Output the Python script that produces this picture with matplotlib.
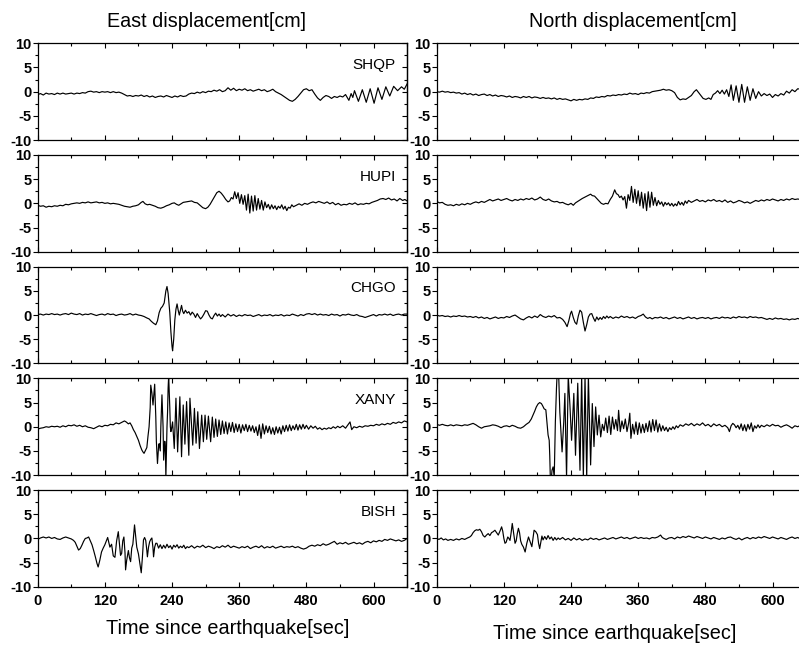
import matplotlib
matplotlib.use("Agg")
import matplotlib.pyplot as plt
from matplotlib.ticker import MultipleLocator
import numpy as np

plt.rcParams.update({"font.family": ["Liberation Sans", "DejaVu Sans"],
                     "axes.unicode_minus": False, "axes.linewidth": 0.9})

STATIONS = ["SHQP", "HUPI", "CHGO", "XANY", "BISH"]
XTICKS = [0, 120, 240, 360, 480, 600]
YTICKS = [-10, -5, 0, 5, 10]
COL_TITLES = ["East displacement[cm]", "North displacement[cm]"]
XLABEL = "Time since earthquake[sec]"

# (time [s], displacement [cm])
SHQP_E = [(0,-0.6),(5,-0.4),(10,-0.7),(15,-0.3),(20,-0.5),(25,-0.4),(30,-0.6),(35,-0.3),(40,-0.5),(45,-0.3),
          (50,-0.5),(55,-0.4),(60,-0.3),(65,-0.5),(70,-0.3),(75,-0.4),(80,-0.2),(85,-0.3),(90,0.0),(95,0.1),
          (100,-0.1),(105,0.0),(110,-0.2),(115,0.0),(120,-0.1),(125,0.0),(130,-0.2),(135,0.0),(140,-0.2),(145,-0.1),
          (150,-0.3),(155,-0.6),(160,-0.9),(165,-0.8),(170,-1.0),(175,-0.8),(180,-0.9),(185,-0.7),(190,-1.0),(195,-0.8),
          (200,-1.1),(205,-0.9),(210,-1.2),(215,-1.0),(220,-0.9),(225,-1.1),(230,-0.8),(235,-1.0),(240,-1.2),(245,-0.9),
          (250,-1.1),(255,-0.8),(260,-1.0),(265,-0.9),(270,-0.5),(275,-0.3),(280,-0.4),(285,-0.1),(290,-0.3),(295,0.0),
          (300,-0.2),(305,0.1),(310,0.0),(315,0.3),(320,0.1),(325,0.4),(330,0.0),(335,0.2),(340,0.8),(345,0.3),
          (350,0.7),(355,0.2),(360,0.5),(365,0.3),(370,0.6),(375,0.2),(380,0.4),(385,0.1),(390,0.3),(395,0.5),
          (400,0.2),(405,0.4),(410,0.0),(415,0.2),(420,0.5),(425,0.0),(430,-0.3),(435,-0.6),(440,-1.0),(445,-1.4),
          (450,-1.8),(455,-2.0),(460,-1.6),(465,-1.0),(470,-0.3),(475,0.4),(480,0.6),(485,0.2),(490,0.4),(495,-0.5),
          (500,-1.3),(505,-1.8),(510,-1.2),(515,-0.8),(520,-1.0),(525,-1.4),(530,-1.0),(535,-1.2),(540,-0.9),(545,-1.1),
          (550,-0.6),(556,-1.8),(560,-0.4),(563,-1.2),(566,0.2),(573,-2.0),(580,0.4),(587,-2.2),(594,0.6),(601,-2.4),
          (608,0.8),(615,-1.6),(622,1.0),(629,-0.9),(636,1.1),(643,0.2),(650,1.0),(655,0.5),(660,1.6)]

HUPI_E = [(0,-0.4),(5,-0.6),(10,-0.5),(15,-0.8),(20,-0.6),(25,-0.7),(30,-0.5),(35,-0.6),(40,-0.4),(45,-0.5),
          (50,-0.2),(55,-0.3),(60,-0.1),(65,0.0),(70,0.1),(75,0.0),(80,0.2),(85,0.1),(90,0.3),(95,0.1),
          (100,0.2),(105,0.3),(110,0.1),(115,0.2),(120,0.0),(125,0.1),(130,-0.1),(135,0.0),(140,-0.1),(145,-0.2),
          (150,-0.4),(155,-0.6),(160,-0.7),(165,-0.8),(170,-0.6),(175,-0.5),(180,-0.3),(185,0.2),(188,0.4),(192,-0.1),
          (196,-0.3),(200,-0.2),(205,-0.4),(210,-0.6),(215,-0.9),(220,-1.0),(225,-0.8),(230,-0.5),(235,-0.3),(240,0.0),
          (244,0.1),(248,-0.2),(252,-0.4),(256,-0.1),(260,0.2),(265,0.3),(270,0.4),(275,0.5),(280,0.2),(285,0.1),
          (290,-0.4),(295,-0.9),(300,-1.1),(304,-0.8),(308,-0.2),(312,0.6),(316,1.4),(320,2.2),(324,2.5),(328,2.1),
          (332,1.5),(336,0.8),(340,0.3),(343,0.5),(346,1.2),(349,0.9),(352,2.4),(355,1.0),(358,2.2),(361,0.0),
          (364,1.8),(367,-0.2),(370,1.6),(373,-1.4),(376,1.9),(379,-2.0),(382,1.5),(385,-1.6),(388,1.6),(391,-1.4),
          (394,1.0),(397,-1.2),(400,0.6),(403,-1.4),(406,0.3),(409,-0.9),(412,-0.2),(415,-1.2),(418,-0.3),(421,-1.1),
          (424,-0.5),(427,-1.3),(430,-0.6),(433,-1.0),(436,-0.3),(439,-1.2),(442,-0.6),(445,-1.5),(448,-0.8),(451,-1.0),
          (454,-0.3),(457,-0.7),(462,-0.4),(467,-0.1),(472,-0.4),(477,0.0),(482,-0.2),(487,0.1),(492,0.3),(497,0.1),
          (502,0.4),(507,0.2),(512,0.0),(517,0.3),(522,-0.1),(527,0.2),(532,-0.3),(537,0.0),(542,-0.4),(547,-0.2),
          (552,-0.3),(557,0.0),(562,-0.2),(567,0.1),(572,-0.3),(577,-0.1),(582,-0.2),(587,0.0),(592,-0.1),(597,0.2),
          (602,0.4),(607,0.6),(612,0.9),(617,1.0),(622,0.8),(627,1.1),(632,0.7),(637,0.9),(642,0.5),(647,1.0),
          (652,0.6),(656,0.8),(660,0.5)]

CHGO_E = [(0,0.1),(5,0.2),(10,0.0),(15,0.2),(20,0.1),(25,0.3),(30,0.1),(35,0.2),(40,0.0),(45,0.2),
          (50,0.3),(55,0.1),(60,0.4),(65,0.2),(70,0.1),(75,0.3),(80,0.0),(85,0.2),(90,0.1),(95,0.3),
          (100,0.1),(105,-0.1),(110,0.1),(115,0.2),(120,0.0),(125,0.3),(130,0.1),(135,0.2),(140,-0.1),(145,0.1),
          (150,0.2),(155,0.0),(160,0.1),(165,0.3),(170,0.0),(175,0.2),(180,0.0),(185,-0.1),(190,-0.3),(195,-0.6),
          (199,-0.8),(203,-1.3),(207,-1.7),(211,-2.0),(214,-1.2),(217,0.5),(220,1.4),(223,1.8),(226,2.5),(229,5.0),
          (231,5.9),(233,4.5),(236,0.5),(238,-3.5),(240,-6.5),(241,-7.4),(243,-5.0),(245,-1.0),(247,1.2),(249,2.3),
          (251,1.0),(253,0.0),(255,1.0),(257,2.0),(259,0.8),(261,0.3),(264,1.0),(267,0.4),(270,0.7),(273,0.0),
          (276,0.6),(279,0.2),(282,-0.5),(285,0.3),(288,-0.3),(291,-0.8),(294,-0.4),(297,0.2),(300,0.9),(303,0.8),
          (306,0.0),(309,-0.6),(312,-0.8),(315,-0.1),(318,0.4),(321,-0.2),(324,0.2),(327,-0.3),(330,0.1),(335,-0.4),
          (340,0.2),(345,-0.2),(350,0.1),(355,-0.3),(360,0.0),(365,-0.2),(370,0.1),(375,-0.1),(380,0.0),(385,-0.3),
          (390,-0.1),(395,0.1),(400,-0.2),(405,0.0),(410,-0.1),(415,0.1),(420,-0.2),(425,0.0),(430,-0.1),(435,0.1),
          (440,-0.2),(445,0.0),(450,-0.1),(455,0.2),(460,0.0),(465,-0.2),(470,0.1),(475,-0.1),(480,0.2),(485,0.3),
          (490,0.1),(495,0.3),(500,0.0),(505,0.2),(510,0.0),(515,0.1),(520,-0.1),(525,0.2),(530,0.0),(535,0.1),
          (540,-0.2),(545,0.1),(550,0.0),(555,0.2),(560,0.0),(565,-0.1),(570,0.1),(575,-0.2),(580,-0.3),(585,-0.5),
          (590,-0.3),(595,-0.1),(600,0.1),(605,-0.2),(610,0.1),(615,0.0),(620,0.2),(625,0.0),(630,0.2),(635,-0.1),
          (640,0.1),(645,0.2),(650,0.0),(655,0.2),(660,0.2)]

XANY_E = [(0,-0.5),(5,-0.3),(10,-0.2),(15,0.0),(20,-0.1),(25,0.1),(30,0.0),(35,0.1),(40,-0.1),(45,0.2),
          (50,0.0),(55,0.3),(60,0.2),(65,0.4),(70,0.1),(75,0.3),(80,0.0),(85,0.2),(90,-0.1),(95,-0.2),
          (100,-0.4),(105,-0.1),(110,0.2),(115,0.0),(120,0.3),(125,0.2),(130,0.5),(135,0.4),(140,0.8),(145,0.6),
          (150,0.9),(155,1.2),(158,1.0),(162,0.6),(165,0.8),(168,0.2),(171,-0.6),(174,-1.2),(177,-2.0),(180,-2.8),
          (183,-3.9),(186,-4.8),(188,-5.2),(190,-5.5),(192,-5.0),(195,-4.3),(197,-2.0),(199,0.0),(201,4.0),(202,8.6),
          (204,7.0),(206,4.5),(208,7.5),(209,8.8),(211,2.0),(212,-3.0),(214,-7.6),(216,-4.0),(217,-3.5),(219,-5.0),
          (220,0.0),(222,6.6),(224,0.0),(225,-6.9),(227,-3.0),(228,-4.0),(229,-10.5),(231,0.0),(232,3.0),(233,8.0),
          (234,10.5),(236,4.0),(237,0.0),(238,-1.0),(239,-0.5),(241,1.0),(244,-4.5),(247,5.9),(250,-5.2),(254,6.2),
          (257,-6.2),(260,4.5),(263,-3.6),(266,5.2),(270,-5.9),(272,5.9),(277,-3.8),(280,3.8),(283,-3.4),(286,3.1),
          (289,-4.5),(293,2.4),(296,-3.1),(299,2.4),(302,-2.6),(305,2.2),(309,-3.1),(312,2.0),(315,-2.2),(318,1.6),
          (321,-2.0),(324,1.4),(327,-1.6),(330,1.2),(333,-1.4),(336,1.0),(339,-1.5),(342,0.8),(345,-1.0),(348,0.9),
          (351,-1.2),(354,0.6),(357,-1.0),(360,0.5),(363,-1.3),(366,0.4),(369,-0.8),(372,0.5),(375,-1.0),(378,0.3),
          (381,-0.9),(384,0.2),(387,-1.2),(390,0.0),(393,-1.8),(396,0.4),(399,-2.4),(402,0.6),(405,-1.5),(408,0.2),
          (411,-1.2),(414,0.1),(417,-1.5),(420,-0.2),(423,-1.6),(426,0.0),(429,-1.3),(432,-0.1),(435,-1.5),(438,0.2),
          (441,-1.0),(444,0.3),(447,-0.9),(450,0.4),(453,-0.8),(456,0.2),(459,-0.6),(462,0.5),(465,-0.7),(468,0.4),
          (471,-0.5),(474,0.5),(477,-0.4),(480,0.3),(484,-0.5),(488,0.2),(492,-0.3),(496,0.1),(500,-0.5),(504,-0.2),
          (508,-0.6),(512,-0.3),(516,-0.5),(520,-0.2),(524,-0.4),(528,0.0),(532,-0.3),(536,0.1),(540,-0.2),(545,0.2),
          (550,-0.3),(555,0.5),(558,1.0),(561,-0.6),(565,0.0),(570,-0.2),(575,0.1),(580,-0.1),(585,0.2),(590,0.1),
          (595,0.3),(600,0.2),(605,0.5),(610,0.3),(615,0.6),(620,0.4),(625,0.7),(630,0.5),(635,0.9),(640,0.7),
          (645,1.0),(650,0.8),(655,1.2),(660,1.0)]

BISH_E = [(0,-0.2),(5,0.1),(10,0.3),(15,0.1),(20,0.3),(25,0.0),(30,0.2),(35,-0.1),(40,-0.2),(45,0.1),
          (50,0.3),(55,0.1),(60,-0.1),(64,-0.4),(67,-0.8),(70,-1.6),(73,-2.4),(76,-2.1),(79,-1.4),(82,-0.6),
          (85,0.0),(88,0.1),(91,0.3),(94,-0.5),(97,-1.3),(100,-2.5),(103,-3.8),(106,-5.2),(108,-5.9),(111,-4.5),
          (114,-2.8),(117,-2.0),(120,-1.3),(123,-0.4),(125,0.2),(127,-0.8),(129,-1.8),(132,-1.2),(135,-3.6),(138,-3.9),
          (141,-0.5),(144,1.4),(146,-1.0),(148,-3.5),(150,-3.1),(152,-0.5),(154,0.3),(156,-3.0),(157,-6.5),(159,-4.5),
          (162,-2.5),(164,-4.0),(166,-4.8),(168,-2.0),(170,-1.2),(172,1.5),(173,2.8),(175,0.5),(177,-1.8),(180,-3.2),
          (183,-5.5),(185,-7.1),(187,-4.0),(189,-0.3),(191,0.2),(193,-0.4),(195,-2.5),(196,-3.8),(198,-1.8),(200,-0.7),
          (202,-0.2),(204,0.1),(206,-2.0),(207,-3.8),(209,-1.8),(211,-1.0),(213,-1.0),(216,-2.0),(219,-1.3),(222,-2.1),
          (225,-1.4),(228,-2.0),(231,-1.2),(234,-1.9),(237,-1.5),(240,-2.2),(243,-1.4),(246,-1.8),(249,-1.3),(252,-2.0),
          (255,-1.6),(258,-1.9),(261,-1.4),(264,-2.1),(267,-1.7),(270,-1.9),(275,-1.5),(280,-2.0),(285,-1.6),(290,-1.8),
          (295,-1.4),(300,-1.9),(305,-1.6),(310,-1.8),(315,-2.1),(320,-1.7),(325,-1.9),(330,-1.5),(335,-1.8),(340,-1.4),
          (345,-1.9),(350,-1.6),(355,-1.8),(360,-2.0),(365,-1.7),(370,-1.9),(375,-1.6),(380,-2.1),(385,-1.8),(390,-1.6),
          (395,-1.9),(400,-1.5),(405,-2.0),(410,-1.7),(415,-1.9),(420,-1.6),(425,-2.0),(430,-1.8),(435,-1.6),(440,-1.9),
          (445,-1.7),(450,-1.8),(455,-1.6),(460,-1.9),(465,-1.7),(470,-2.0),(475,-2.2),(480,-2.0),(485,-1.6),(490,-1.4),
          (495,-1.6),(500,-1.3),(505,-1.5),(510,-1.1),(515,-1.4),(520,-1.2),(525,-0.9),(530,-0.6),(535,-1.2),(540,-0.9),
          (545,-1.1),(550,-0.8),(555,-1.2),(560,-1.0),(565,-0.8),(570,-1.1),(575,-0.9),(580,-1.2),(585,-0.8),(590,-0.6),
          (595,-0.9),(600,-0.5),(605,-0.7),(610,-0.4),(615,-0.6),(620,-0.2),(625,-0.4),(630,-0.1),(635,-0.3),(640,-0.5),
          (645,-0.3),(650,-0.6),(655,-0.4),(660,0.0)]

SHQP_N = [(0,0.0),(5,-0.1),(10,0.1),(15,-0.1),(20,0.0),(25,-0.2),(30,-0.1),(35,-0.3),(40,-0.2),(45,-0.5),
          (50,-0.3),(55,-0.6),(60,-0.4),(65,-0.7),(70,-0.5),(75,-0.8),(80,-0.6),(85,-0.5),(90,-0.8),(95,-0.6),
          (100,-0.9),(105,-0.7),(110,-1.0),(115,-0.8),(120,-0.9),(125,-1.1),(130,-0.9),(135,-1.2),(140,-1.0),(145,-1.1),
          (150,-1.3),(155,-1.0),(160,-1.2),(165,-1.0),(170,-1.3),(175,-1.1),(180,-1.2),(185,-1.4),(190,-1.2),(195,-1.4),
          (200,-1.3),(205,-1.5),(210,-1.3),(215,-1.6),(220,-1.4),(225,-1.6),(230,-1.5),(235,-1.7),(240,-1.9),(245,-1.6),
          (250,-1.8),(255,-1.6),(260,-1.7),(265,-1.5),(270,-1.6),(275,-1.3),(280,-1.4),(285,-1.1),(290,-1.2),(295,-1.0),
          (300,-1.1),(305,-0.8),(310,-0.9),(315,-0.7),(320,-0.8),(325,-0.6),(330,-0.7),(335,-0.5),(340,-0.6),(345,-0.3),
          (350,-0.5),(355,-0.4),(360,-0.6),(365,-0.3),(370,-0.4),(375,-0.2),(380,-0.3),(385,0.0),(390,0.1),(395,0.2),
          (400,0.3),(405,0.5),(410,0.3),(415,0.4),(420,0.2),(425,-0.2),(430,-1.2),(435,-1.7),(440,-1.5),(445,-1.6),
          (450,-1.2),(455,-0.8),(460,0.0),(464,0.4),(468,-0.2),(472,-0.8),(476,-1.4),(481,-1.6),(486,-1.3),(490,-1.6),
          (494,-0.6),(498,-0.3),(502,0.2),(506,-0.4),(510,0.3),(514,-0.5),(518,0.4),(522,-1.0),(526,1.4),(530,-1.8),
          (535,1.2),(540,-2.2),(545,1.5),(550,-2.2),(555,1.0),(560,-1.8),(565,0.6),(570,-1.4),(575,0.0),(580,-0.9),
          (585,-0.4),(590,-0.8),(595,-0.5),(600,-1.2),(605,-0.6),(610,-0.9),(615,-0.4),(620,-0.7),(625,0.1),(630,-0.3),
          (635,0.4),(640,0.0),(645,0.6),(650,0.5),(655,0.8),(660,0.9)]

HUPI_N = [(0,0.4),(5,0.1),(10,0.2),(15,-0.2),(20,-0.4),(25,-0.3),(30,-0.5),(35,-0.2),(40,-0.4),(45,-0.1),
          (50,-0.3),(55,0.0),(60,-0.2),(65,0.1),(70,0.3),(75,0.1),(80,0.4),(85,0.2),(90,0.5),(95,0.8),
          (100,0.5),(105,0.7),(110,0.9),(115,0.6),(120,0.8),(125,1.0),(130,0.7),(135,0.5),(140,0.8),(145,0.6),
          (150,0.9),(155,0.7),(160,1.0),(165,0.8),(170,1.1),(175,0.7),(180,0.9),(185,1.3),(190,0.8),(195,0.6),
          (200,0.9),(205,0.5),(210,0.3),(215,0.4),(220,0.1),(225,0.2),(230,-0.1),(235,-0.3),(240,0.0),(244,-0.4),
          (248,0.1),(252,0.4),(256,0.7),(260,1.0),(265,1.3),(270,1.6),(275,1.9),(278,1.6),(282,1.5),(286,1.0),
          (290,0.5),(294,0.0),(298,-0.2),(302,0.0),(306,-0.1),(310,0.8),(314,1.5),(318,2.8),(321,2.0),(324,1.8),
          (327,1.2),(330,1.5),(333,0.7),(336,1.4),(339,-1.0),(342,1.8),(345,0.6),(348,3.5),(351,0.2),(354,2.9),
          (357,0.0),(360,2.6),(363,-0.5),(366,2.3),(369,-1.0),(372,2.0),(375,-1.5),(378,2.4),(381,-0.8),(384,2.3),
          (387,-0.4),(390,1.2),(393,-0.5),(396,0.6),(399,-0.2),(402,0.3),(405,-0.6),(408,0.2),(411,-0.3),(414,0.1),
          (417,-0.5),(420,0.0),(423,-0.6),(426,-0.1),(429,-0.5),(432,0.4),(435,-0.3),(438,0.2),(441,-0.4),(444,0.5),
          (447,0.0),(450,0.6),(455,0.2),(460,0.5),(465,0.8),(470,0.4),(475,0.6),(480,0.3),(485,0.7),(490,0.5),
          (495,0.8),(500,0.4),(505,0.6),(510,0.3),(515,0.7),(520,0.2),(525,0.5),(530,0.1),(535,0.3),(540,0.6),
          (545,0.4),(550,0.1),(555,0.3),(560,0.0),(565,0.3),(570,0.6),(575,0.4),(580,0.7),(585,0.5),(590,0.8),
          (595,0.6),(600,0.9),(605,0.7),(610,0.5),(615,0.8),(620,0.6),(625,0.9),(630,0.7),(635,1.0),(640,0.8),
          (645,0.9),(650,0.8),(655,0.9),(660,0.8)]

CHGO_N = [(0,0.0),(5,-0.2),(10,-0.1),(15,-0.3),(20,-0.2),(25,-0.4),(30,-0.2),(35,-0.3),(40,-0.1),(45,-0.3),
          (50,-0.2),(55,-0.4),(60,-0.3),(65,-0.5),(70,-0.3),(75,-0.6),(80,-0.4),(85,-0.7),(90,-0.5),(95,-0.8),
          (100,-0.6),(105,-0.4),(110,-0.7),(115,-0.5),(120,-0.6),(125,-0.3),(130,-0.5),(135,-0.2),(140,0.0),(145,-0.4),
          (150,-0.8),(155,-1.0),(160,-0.6),(165,-0.3),(170,-0.6),(175,-0.2),(180,-0.5),(185,0.1),(190,-0.3),(195,-0.5),
          (200,-0.2),(205,-0.4),(210,-0.1),(215,-0.6),(220,-0.5),(225,-0.9),(229,-1.5),(233,-2.4),(236,-1.2),(239,0.3),
          (241,0.8),(244,-0.5),(247,-1.5),(250,-1.9),(253,-0.2),(256,1.0),(259,0.6),(262,-1.5),(265,-3.3),(268,-2.0),
          (271,-0.4),(274,0.2),(277,0.3),(280,-0.6),(283,-1.3),(286,-0.4),(289,-1.0),(292,-0.5),(295,-0.9),(298,-0.3),
          (301,-0.7),(304,-0.2),(307,-0.6),(310,-0.3),(315,-0.7),(320,-0.4),(325,-0.6),(330,-0.2),(335,-0.5),(340,-0.3),
          (345,-0.6),(350,-0.4),(355,-0.7),(360,-0.3),(365,-0.1),(369,0.2),(373,-0.4),(377,-0.7),(381,-0.5),(385,-0.8),
          (390,-0.5),(395,-0.6),(400,-0.4),(405,-0.7),(410,-0.5),(415,-0.8),(420,-0.6),(425,-0.4),(430,-0.7),(435,-0.5),
          (440,-0.8),(445,-0.6),(450,-0.4),(455,-0.7),(460,-0.5),(465,-0.8),(470,-0.6),(475,-0.5),(480,-0.7),(485,-0.5),
          (490,-0.8),(495,-0.6),(500,-0.5),(505,-0.7),(510,-0.4),(515,-0.6),(520,-0.5),(525,-0.7),(530,-0.4),(535,-0.6),
          (540,-0.3),(545,-0.5),(550,-0.4),(555,-0.6),(560,-0.3),(565,-0.5),(570,-0.4),(575,-0.6),(580,-0.5),(585,-0.7),
          (590,-0.9),(595,-0.7),(600,-0.9),(605,-0.6),(610,-0.8),(615,-0.7),(620,-0.9),(625,-0.8),(630,-1.0),(635,-0.8),
          (640,-0.9),(645,-0.7),(650,-0.9),(655,-0.8),(660,-0.8)]

XANY_N = [(0,0.5),(5,0.3),(10,0.5),(15,0.3),(20,0.2),(25,0.4),(30,0.2),(35,0.4),(40,0.3),(45,0.2),
          (50,0.4),(55,0.3),(60,0.5),(65,0.7),(70,0.4),(75,0.0),(80,-0.3),(85,0.0),(90,0.1),(95,0.2),
          (100,0.4),(105,0.3),(110,0.1),(115,-0.2),(120,0.1),(125,0.2),(130,0.0),(135,0.3),(140,0.1),(145,-0.2),
          (150,-0.3),(155,0.0),(160,0.5),(165,0.9),(169,1.6),(172,2.4),(175,3.2),(178,4.1),(181,4.7),(184,5.0),
          (187,4.8),(189,4.4),(192,3.7),(195,3.5),(197,1.0),(199,-1.7),(201,-2.8),(202,-6.0),(203,-10.5),(205,-10.5),
          (206,-9.0),(208,-8.3),(210,-10.5),(212,1.0),(214,8.0),(215,10.5),(218,10.5),(220,3.0),(221,1.0),(224,-5.2),
          (227,1.0),(229,6.9),(232,-10.5),(235,10.5),(238,4.5),(241,-2.8),(245,6.9),(248,-5.9),(252,9.0),(256,-9.0),
          (259,10.5),(262,-10.5),(265,10.5),(268,-10.5),(271,10.5),(275,-7.9),(278,4.8),(281,-4.1),(284,4.1),(287,-1.7),
          (290,2.4),(293,-2.1),(296,0.5),(299,-0.8),(302,1.8),(305,-1.2),(308,2.2),(311,-1.6),(314,2.0),(317,-0.5),
          (320,1.5),(323,-0.8),(325,3.4),(328,-1.0),(331,1.2),(334,-0.4),(337,1.6),(340,-1.0),(343,0.8),(345,2.8),
          (347,-2.4),(350,0.5),(353,-1.5),(356,1.0),(359,-1.6),(362,0.8),(365,-1.3),(368,0.5),(371,-1.2),(374,0.7),
          (377,-1.0),(380,1.2),(383,-1.1),(386,1.5),(389,-0.8),(392,1.4),(395,-1.1),(398,0.6),(401,-0.9),(404,0.2),
          (407,-0.8),(410,-0.1),(413,-1.0),(416,-0.2),(419,-0.6),(422,0.0),(425,-0.5),(428,0.2),(431,-0.2),(435,0.4),
          (440,0.1),(445,0.6),(450,0.3),(455,0.7),(460,0.2),(465,0.6),(470,0.3),(475,0.8),(480,0.2),(485,0.5),
          (490,0.0),(495,0.6),(500,0.2),(505,0.5),(510,0.0),(515,0.3),(520,-0.2),(523,-1.0),(526,0.2),(529,0.7),
          (532,0.4),(535,-0.2),(538,0.3),(541,-0.5),(544,0.6),(547,-0.8),(550,0.4),(553,-0.9),(556,0.5),(559,-0.5),
          (562,0.8),(565,-1.0),(568,0.2),(571,-0.3),(574,0.4),(577,-0.2),(580,0.3),(585,0.0),(590,0.4),(595,0.1),
          (600,0.5),(605,0.2),(610,0.3),(615,-0.1),(620,0.2),(625,0.4),(630,0.1),(635,-0.3),(640,0.2),(645,0.0),
          (650,0.3),(655,0.1),(660,0.2)]

BISH_N = [(0,0.0),(4,-0.2),(8,0.1),(12,-0.3),(16,-0.1),(20,-0.4),(25,-0.2),(30,-0.4),(35,-0.1),(40,-0.3),
          (45,0.0),(50,-0.2),(55,0.1),(59,0.3),(62,0.6),(65,1.2),(68,1.6),(71,1.8),(74,1.7),(77,1.9),
          (80,1.4),(83,0.6),(86,0.3),(89,0.7),(92,1.0),(95,0.6),(98,1.2),(101,1.4),(104,1.7),(107,1.2),
          (110,0.7),(113,1.5),(116,2.4),(118,1.5),(120,0.0),(122,-1.0),(124,-0.8),(127,0.3),(129,0.0),(131,-0.4),
          (133,1.2),(135,3.1),(137,1.5),(140,-1.0),(142,-0.5),(144,1.0),(146,2.1),(148,1.2),(150,-0.5),(152,-1.2),
          (155,-1.8),(158,-2.8),(161,-1.0),(164,0.3),(167,-0.7),(170,-1.7),(172,0.0),(174,1.7),(177,1.4),(180,0.8),
          (182,-1.0),(184,-2.1),(186,-0.8),(188,0.5),(190,-0.3),(193,0.4),(196,-0.2),(199,0.6),(202,-0.1),(205,0.3),
          (208,-0.4),(211,0.2),(214,-0.3),(217,0.1),(220,-0.2),(225,0.2),(230,-0.3),(235,0.0),(240,-0.4),(245,0.1),
          (250,-0.3),(255,0.0),(260,-0.4),(265,-0.1),(270,-0.3),(275,0.1),(280,-0.2),(285,0.0),(290,-0.3),(295,-0.1),
          (300,0.1),(305,-0.2),(310,0.0),(315,0.2),(320,-0.1),(325,0.1),(330,0.3),(335,0.0),(340,0.2),(345,-0.1),
          (350,0.1),(355,0.3),(360,0.0),(365,0.2),(370,0.0),(375,0.1),(380,-0.1),(385,0.2),(390,0.1),(395,0.3),
          (400,0.7),(403,0.2),(406,0.0),(410,-0.2),(415,0.1),(420,0.2),(425,-0.1),(430,0.3),(435,0.1),(440,0.4),
          (445,0.2),(450,0.5),(455,0.3),(460,0.1),(465,0.4),(470,0.2),(475,0.0),(480,0.3),(485,0.1),(490,-0.1),
          (495,0.2),(500,0.0),(505,-0.2),(510,0.1),(515,-0.1),(520,0.2),(525,0.3),(530,0.0),(535,-0.2),(540,0.1),
          (545,-0.3),(550,0.0),(555,0.2),(560,-0.1),(565,0.2),(570,0.0),(575,0.3),(580,0.1),(585,0.4),(590,0.2),
          (595,0.0),(600,0.3),(605,0.1),(610,-0.1),(615,0.2),(620,0.0),(625,-0.2),(630,0.1),(635,0.3),(640,0.0),
          (645,0.2),(650,-0.1),(655,0.2),(660,0.0)]

EAST = [SHQP_E, HUPI_E, CHGO_E, XANY_E, BISH_E]
NORTH = [SHQP_N, HUPI_N, CHGO_N, XANY_N, BISH_N]

W, H = 799, 647
fig = plt.figure(figsize=(W / 100, H / 100), dpi=100)

PX_PER_S = 0.5597
PANEL_H = 96.7
ROW_STEP = 111.7
COL_X0 = [37.7, 436.7]

for col, traces in enumerate([EAST, NORTH]):
    for r in range(5):
        top = 43.3 + ROW_STEP * r
        ax = fig.add_axes([COL_X0[col] / W, 1 - (top + PANEL_H) / H,
                           660 * PX_PER_S / W, PANEL_H / H])
        t, v = np.array(traces[r]).T
        ax.plot(t, v, color="black", lw=0.85)
        ax.set_xlim(0, 660)
        ax.set_ylim(-10, 10)
        ax.set_xticks(XTICKS)
        ax.xaxis.set_minor_locator(MultipleLocator(60))
        ax.set_yticks(YTICKS)
        ax.yaxis.set_minor_locator(MultipleLocator(2.5))
        ax.tick_params(axis="x", which="both", direction="in", top=True,
                       labelsize=10.5, pad=5)
        ax.tick_params(axis="x", which="major", length=3.5, width=0.8)
        ax.tick_params(axis="x", which="minor", length=2, width=0.8)
        ax.tick_params(axis="y", which="both", direction="out", labelsize=10.5, pad=1)
        ax.tick_params(axis="y", which="major", length=3.5, width=0.8)
        ax.tick_params(axis="y", which="minor", length=2, width=0.8)
        for lab in ax.get_xticklabels() + ax.get_yticklabels():
            lab.set_fontweight("bold")
        if r < 4:
            ax.tick_params(axis="x", labelbottom=False)
        if col == 0:
            sec = ax.secondary_yaxis("right")
            sec.set_yticks(YTICKS)
            sec.yaxis.set_minor_locator(MultipleLocator(2.5))
            sec.tick_params(axis="y", which="both", direction="in", labelright=False)
            sec.tick_params(axis="y", which="major", length=3.5, width=0.8)
            sec.tick_params(axis="y", which="minor", length=2, width=0.8)
            ax.text(640, 5.5, STATIONS[r], ha="right", va="center", fontsize=11)

fig.text(206.7 / W, 1 - 21.7 / H, COL_TITLES[0], ha="center", va="center", fontsize=14.2)
fig.text(633 / W, 1 - 21.7 / H, COL_TITLES[1], ha="center", va="center", fontsize=14.2)
fig.text(228 / W, 1 - 628.3 / H, XLABEL, ha="center", va="center", fontsize=14.3)
fig.text(615 / W, 1 - 633.3 / H, XLABEL, ha="center", va="center", fontsize=14.3)

fig.savefig("out.png", dpi=100)
